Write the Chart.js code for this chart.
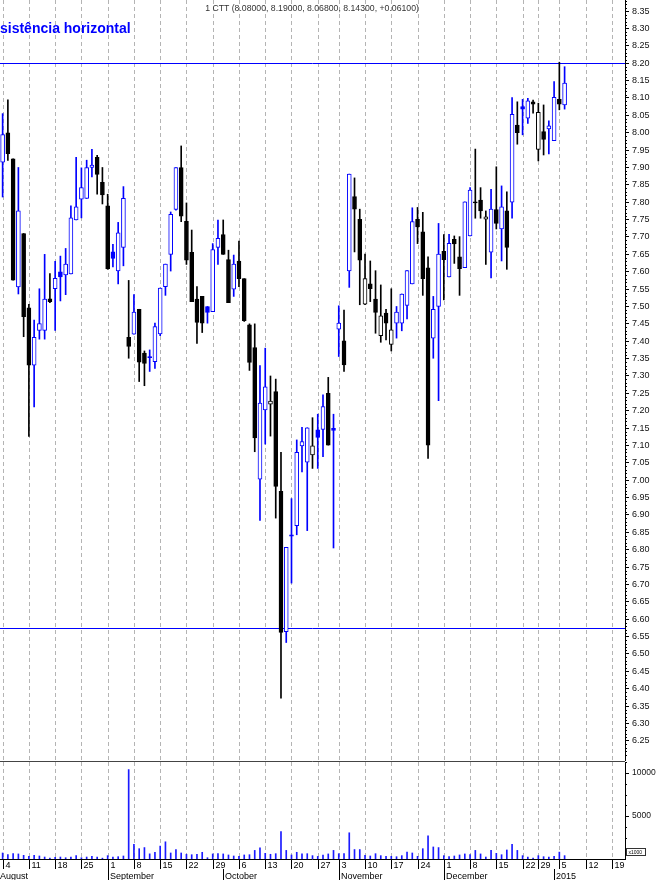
<!DOCTYPE html>
<html><head><meta charset="utf-8">
<script src="https://cdn.jsdelivr.net/npm/chart.js@4.4.1/dist/chart.umd.min.js"></script>
<style>
html,body{margin:0;padding:0;background:#fff;width:660px;height:880px;overflow:hidden}
#wrap{position:relative;width:660px;height:880px}
canvas{position:absolute;left:0}
</style></head><body>
<div id="wrap">
<canvas id="price" width="660" height="761" style="top:0"></canvas>
<canvas id="vol" width="660" height="119" style="top:761px"></canvas>
</div>
<script>
const ticker = 'CTT';
const annotationText = 'Resistência horizontal';
const dates = [
'2014-08-04','2014-08-05','2014-08-06','2014-08-07','2014-08-08','2014-08-11','2014-08-12','2014-08-13','2014-08-14','2014-08-15',
'2014-08-18','2014-08-19','2014-08-20','2014-08-21','2014-08-22','2014-08-25','2014-08-26','2014-08-27','2014-08-28','2014-08-29',
'2014-09-01','2014-09-02','2014-09-03','2014-09-04','2014-09-05','2014-09-08','2014-09-09','2014-09-10','2014-09-11','2014-09-12',
'2014-09-15','2014-09-16','2014-09-17','2014-09-18','2014-09-19','2014-09-22','2014-09-23','2014-09-24','2014-09-25','2014-09-26',
'2014-09-29','2014-09-30','2014-10-01','2014-10-02','2014-10-03','2014-10-06','2014-10-07','2014-10-08','2014-10-09','2014-10-10',
'2014-10-13','2014-10-14','2014-10-15','2014-10-16','2014-10-17','2014-10-20','2014-10-21','2014-10-22','2014-10-23','2014-10-24',
'2014-10-27','2014-10-28','2014-10-29','2014-10-30','2014-11-03','2014-11-04','2014-11-05','2014-11-06','2014-11-07','2014-11-10',
'2014-11-11','2014-11-12','2014-11-13','2014-11-14','2014-11-17','2014-11-18','2014-11-19','2014-11-20','2014-11-21','2014-11-24',
'2014-11-25','2014-11-26','2014-11-27','2014-11-28','2014-12-01','2014-12-02','2014-12-03','2014-12-04','2014-12-05','2014-12-08',
'2014-12-09','2014-12-10','2014-12-11','2014-12-12','2014-12-15','2014-12-16','2014-12-17','2014-12-18','2014-12-19','2014-12-22',
'2014-12-23','2014-12-24','2014-12-29','2014-12-30','2014-12-31','2015-01-02','2015-01-05','2015-01-06'];
const futureDates = ['2015-01-07','2015-01-08','2015-01-09','2015-01-12','2015-01-13','2015-01-14','2015-01-15','2015-01-16','2015-01-19','2015-01-20','2015-01-21'];

const opens = [
7.915,8.000,7.925,7.556,7.710, 7.496,7.331,7.431,7.431,7.522,
7.551,7.600,7.591,7.594,7.749, 7.809,7.811,7.900,7.929,7.857,
7.790,7.657,7.602,7.670,7.411, 7.420,7.492,7.366,7.356,7.341,
7.421,7.557,7.650,7.779,7.900, 7.745,7.656,7.521,7.529,7.500,
7.485,7.670,7.707,7.635,7.550, 7.631,7.580,7.447,7.382,7.003,
7.202,7.219,7.255,6.968,6.564, 6.843,6.869,7.099,7.052,7.073,
7.145,7.146,7.250,7.149, 7.435,7.401,7.602,7.816,7.751,
7.507,7.565,7.521,7.416,7.481, 7.391,7.452,7.452,7.503,7.565,
7.751,7.715,7.611,7.409,7.500, 7.659,7.585,7.693,7.643,7.612,
7.703,7.801,7.806,7.751,7.656, 7.779,7.723,7.775,7.800,8.022,
8.075,8.042,8.089, 7.952,8.003,8.011,7.977, 8.096,8.080];
const highs = [
8.055,8.095,7.925,7.900,7.710, 7.506,7.461,7.551,7.650,7.595,
7.630,7.645,7.667,7.790,7.929, 7.899,7.921,7.952,7.935,7.900,
7.823,7.679,7.742,7.845,7.575, 7.534,7.492,7.372,7.375,7.452,
7.553,7.622,7.772,7.900,7.962, 7.798,7.720,7.557,7.529,7.500,
7.681,7.749,7.749,7.662,7.648, 7.688,7.580,7.450,7.450,7.330,
7.380,7.300,7.291,7.080,6.807, 6.947,7.116,7.152,7.151,7.180,
7.190,7.246,7.296,7.190, 7.502,7.490,7.881,7.870,7.780,
7.651,7.631,7.603,7.562,7.492, 7.551,7.500,7.536,7.603,7.784,
7.785,7.771,7.643,7.529,7.739, 7.707,7.708,7.703,7.701,7.801,
7.842,7.953,7.842,7.775,7.837, 7.902,7.847,7.830,8.101,8.089,
8.096,8.099,8.094, 8.085,8.080,8.034,8.147, 8.203,8.190];
const lows = [
7.815,7.920,7.576,7.536,7.413, 7.126,7.211,7.406,7.406,7.511,
7.431,7.516,7.534,7.594,7.749, 7.755,7.811,7.873,7.823,7.795,
7.607,7.614,7.565,7.617,7.351, 7.420,7.284,7.272,7.313,7.322,
7.416,7.532,7.602,7.777,7.744, 7.621,7.514,7.394,7.425,7.452,
7.485,7.621,7.650,7.511,7.529, 7.557,7.457,7.316,7.082,6.884,
7.104,7.127,6.891,6.373,6.533, 6.704,6.843,7.024,6.855,7.034,
7.034,7.068,7.101,6.805, 7.356,7.313,7.555,7.657,7.505,
7.505,7.514,7.423,7.397,7.404, 7.372,7.409,7.430,7.464,7.565,
7.681,7.532,7.063,7.351,7.229, 7.519,7.585,7.624,7.532,7.612,
7.703,7.754,7.754,7.621,7.582, 7.723,7.631,7.607,7.754,7.967,
7.994,8.027,8.056, 7.919,7.936,7.939,7.977, 8.066,8.068];
const closes = [
7.995,7.940,7.576,7.775,7.471, 7.331,7.411,7.451,7.521,7.514,
7.581,7.585,7.622,7.755,7.787, 7.842,7.900,7.907,7.880,7.821,
7.609,7.638,7.712,7.811,7.385, 7.484,7.340,7.336,7.353,7.442,
7.553,7.622,7.765,7.900,7.760, 7.633,7.514,7.454,7.452,7.483,
7.664,7.696,7.650,7.511,7.622, 7.580,7.459,7.339,7.122,7.222,
7.269,7.228,6.982,6.562,6.807, 6.839,7.080,7.111,7.151,7.099,
7.123,7.212,7.101,7.143, 7.452,7.332,7.881,7.780,7.633,
7.580,7.551,7.483,7.473,7.452, 7.433,7.484,7.536,7.603,7.744,
7.729,7.580,7.101,7.492,7.651, 7.635,7.682,7.680,7.609,7.801,
7.835,7.798,7.775,7.758,7.780, 7.739,7.787,7.670,8.053,8.000,
8.068,8.092,8.082, 8.059,7.981,8.020,8.102, 8.082,8.143];
const volumes = [
700,500,620,590,430, 300,430,350,230,120,
200,230,150,230,390, 150,230,310,230,100,
390,230,270,350,10400, 1700,1200,1330,600,780,
1500,2000,700,1100,700, 550,500,550,780,150,
590,620,590,470,350, 310,470,500,1000,1300,
660,550,620,3200,1000, 470,780,590,620,390,
300,470,590,1000, 620,620,3050,1100,1100,
430,350,620,390,310, 310,270,390,800,700,
310,1200,2700,1400,1330, 390,270,350,470,590,
500,1000,590,230,1000, 660,500,1050,1700,1000,
390,230,100, 390,270,230,300, 800,390];

const levels = [8.20, 6.575];
const priceTickLabels = ['6.25','6.30','6.35','6.40','6.45','6.50','6.55','6.60','6.65','6.70','6.75','6.80','6.85','6.90','6.95',
'7.00','7.05','7.10','7.15','7.20','7.25','7.30','7.35','7.40','7.45','7.50','7.55','7.60','7.65','7.70','7.75','7.80','7.85','7.90','7.95',
'8.00','8.05','8.10','8.15','8.20','8.25','8.30','8.35'];
const volTickLabels = ['5000','10000'];
const volMinorTicks = [1250,2500,3750,6250,7500,8750,11250];
const monthNames = ['January','February','March','April','May','June','July','August','September','October','November','December'];

const BLUE = '#0000ff', BLACK = '#000000', GRID = '#b4b4b4';
const FONT = "'Liberation Sans', Arial, sans-serif";
const allLabels = dates.concat(futureDates);
const n = dates.length;
const isUp = closes.map((c,i)=> i===0 ? c>=opens[i] : c>=closes[i-1]);
const candleColor = isUp.map(u=>u?BLUE:BLACK);
const bodyFill = closes.map((c,i)=> c>opens[i] ? '#ffffff' : candleColor[i]);
const parse = d => new Date(d+'T00:00:00Z');
const mondayIdx = allLabels.map((d,i)=>parse(d).getUTCDay()===1?i:-1).filter(i=>i>=0);

function line(ctx,x1,y1,x2,y2){ctx.beginPath();ctx.moveTo(x1,y1);ctx.lineTo(x2,y2);ctx.stroke();}
function drawGrid(chart){
  const {ctx, chartArea:a, scales:{x}} = chart;
  ctx.save(); ctx.strokeStyle=GRID; ctx.lineWidth=1; ctx.setLineDash([4,3]);
  mondayIdx.forEach(i=>{const px=Math.round(x.getPixelForValue(i))+0.5; line(ctx,px,a.top,px,a.bottom);});
  ctx.restore();
}

const priceDeco = {
  id:'priceDeco',
  beforeDatasetsDraw(chart){
    drawGrid(chart);
    const {ctx, chartArea:a, scales:{y}} = chart;
    ctx.save(); ctx.strokeStyle=BLUE; ctx.lineWidth=1;
    levels.forEach(v=>{const py=Math.round(y.getPixelForValue(v))+0.5; line(ctx,a.left,py,a.right,py);});
    ctx.restore();
  },
  afterDraw(chart){
    const {ctx, chartArea:a, scales:{y}} = chart;
    ctx.save();
    ctx.strokeStyle='#000'; ctx.lineWidth=1;
    for(let k=620;k<=838;k++){ if(k%5===0) continue; const py=Math.round(y.getPixelForValue(k/100))+0.5; line(ctx,a.right,py,a.right+2,py); }
    const last=n-1, chg=closes[last]-closes[last-1];
    const title = '1 '+ticker+' ('+opens[last].toFixed(5)+', '+highs[last].toFixed(5)+', '+lows[last].toFixed(5)+', '+closes[last].toFixed(5)+', '+(chg>=0?'+':'')+chg.toFixed(5)+')';
    ctx.fillStyle='#333'; ctx.font='8.7px '+FONT; ctx.textAlign='center'; ctx.textBaseline='alphabetic';
    ctx.fillText(title, 312, 11);
    ctx.font='bold 14px '+FONT; ctx.textAlign='left'; ctx.fillStyle=BLUE;
    const off = ctx.measureText('Re').width;
    ctx.fillText(annotationText, -off, 33);
    ctx.restore();
  }
};

const volDeco = {
  id:'volDeco',
  beforeDatasetsDraw(chart){ drawGrid(chart); },
  afterDraw(chart){
    const {ctx, chartArea:a, scales:{x,y}} = chart;
    ctx.save();
    ctx.strokeStyle='#444'; ctx.lineWidth=1;
    line(ctx,0,0.5,a.right,0.5);
    ctx.strokeStyle='#000';
    line(ctx,0,a.bottom+0.5,a.right,a.bottom+0.5);
    volMinorTicks.forEach(v=>{const py=Math.round(y.getPixelForValue(v))+0.5; line(ctx,a.right,py,a.right+2,py);});
    ctx.fillStyle='#000'; ctx.font='9px '+FONT; ctx.textAlign='left'; ctx.textBaseline='alphabetic';
    allLabels.forEach((d,i)=>{
      const dt=parse(d); const px=Math.round(x.getPixelForValue(i))+0.5;
      if(dt.getUTCDay()===1){ line(ctx,px,a.bottom,px,a.bottom+10); ctx.fillText(String(dt.getUTCDate()), px+2, a.bottom+9); }
      const m=dt.getUTCMonth();
      const label = m===0 ? String(dt.getUTCFullYear()) : monthNames[m];
      if(i===0){ ctx.fillText(label, 0, a.bottom+20); }
      else if(parse(allLabels[i-1]).getUTCMonth()!==m){ line(ctx,px,a.bottom+10,px,a.bottom+21); ctx.fillText(label, px+1.5, a.bottom+20); }
    });
    ctx.strokeStyle='#333'; ctx.strokeRect(a.right+1.5, 87.5, 19, 7);
    ctx.font='5px '+FONT; ctx.fillText('x1000', a.right+3.5, 93.2);
    ctx.restore();
  }
};

function yAxis(min,max,tickVals,size){
  return {
    position:'right', min:min, max:max,
    afterBuildTicks: s => { s.ticks = tickVals.map(v=>({value:v})); },
    afterFit: s => { s.width = 35; s.paddingTop = 0; s.paddingBottom = 0; },
    ticks:{ autoSkip:false, padding:3, color:'#111', font:{family:FONT, size:size}, callback:(v,i)=> tickLabelsFor(tickVals)[i] },
    grid:{ drawOnChartArea:false, drawTicks:true, tickLength:4, color:'#000', lineWidth:1 },
    border:{ display:true, color:'#000', width:1 }
  };
}
const priceTickVals = priceTickLabels.map(Number);
const volTickVals = volTickLabels.map(Number);
function tickLabelsFor(vals){ return vals===priceTickVals ? priceTickLabels : volTickLabels; }

new Chart(document.getElementById('price'), {
  type:'bar',
  data:{ labels: allLabels, datasets:[
    { label:'body', data: opens.map((o,i)=>[Math.min(o,closes[i]), Math.max(o,closes[i])]),
      backgroundColor: bodyFill, borderColor: candleColor, borderWidth:1, borderSkipped:false,
      barThickness:4, grouped:false, order:0, minBarLength:1 },
    { label:'wick', data: lows.map((l,i)=>[l, highs[i]]), backgroundColor: candleColor, borderWidth:0,
      barThickness:1, grouped:false, order:1 }
  ]},
  options:{ responsive:false, animation:false, devicePixelRatio:1, layout:{padding:0},
    plugins:{ legend:{display:false}, tooltip:{enabled:false} },
    scales:{ x:{ display:false, offset:true, grid:{display:false} }, y: yAxis(6.192, 8.382, priceTickVals, 9) } },
  plugins:[priceDeco]
});

new Chart(document.getElementById('vol'), {
  type:'bar',
  data:{ labels: allLabels, datasets:[
    { label:'volume', data: volumes, backgroundColor:'#1a1aff', borderWidth:0, barThickness:1, grouped:false }
  ]},
  options:{ responsive:false, animation:false, devicePixelRatio:1, layout:{padding:{top:1,bottom:21,left:0,right:0}},
    plugins:{ legend:{display:false}, tooltip:{enabled:false} },
    scales:{ x:{ display:false, offset:true, grid:{display:false} }, y: yAxis(0, 11280, volTickVals, 8.5) } },
  plugins:[volDeco]
});
</script>
</body></html>
